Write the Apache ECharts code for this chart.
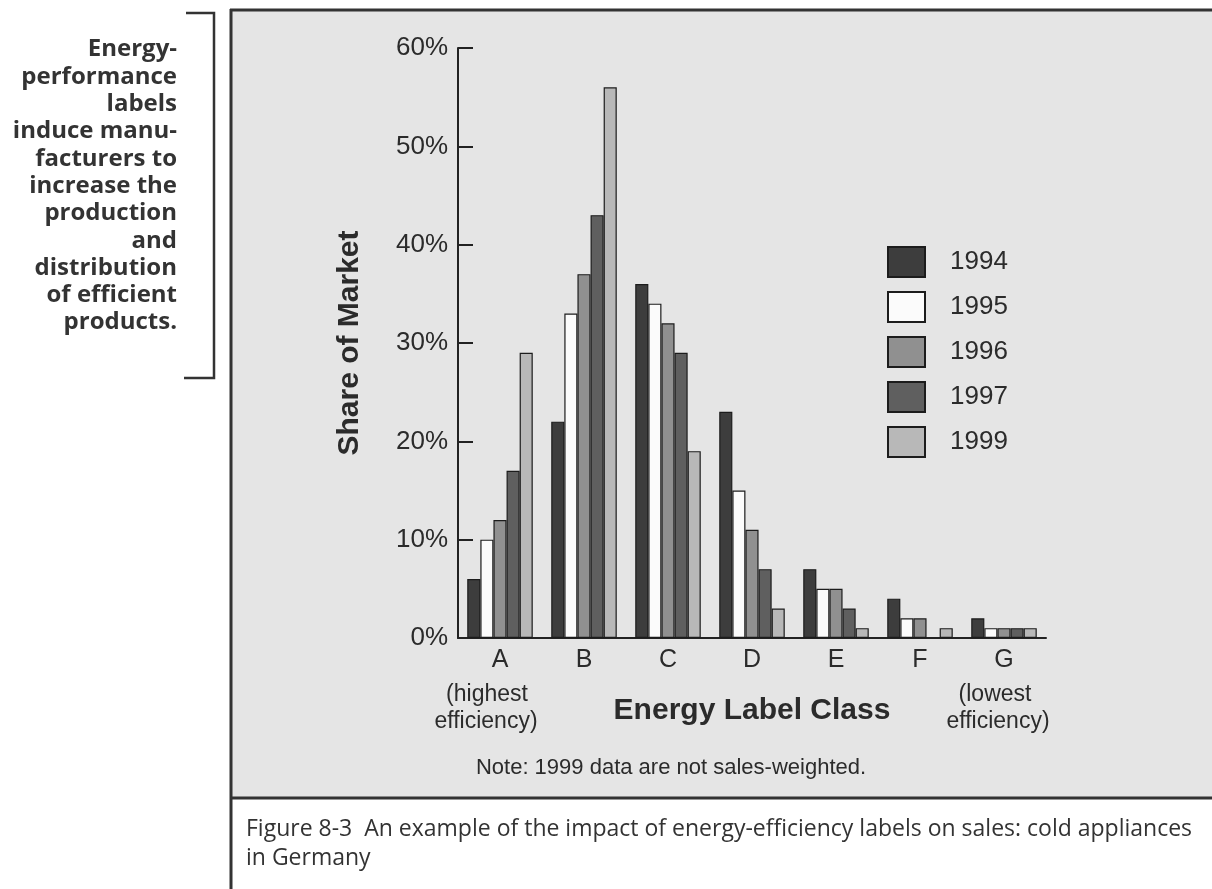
<!DOCTYPE html>
<html>
<head>
<meta charset="utf-8">
<script src="https://cdn.jsdelivr.net/npm/echarts@6/dist/echarts.min.js"></script>
<style>
html,body{margin:0;padding:0;background:#fff;}
#chart{width:1212px;height:889px;}
</style>
</head>
<body>
<div id="chart"></div>
<script>
const categories = ['A', 'B', 'C', 'D', 'E', 'F', 'G'];
const years = ['1994', '1995', '1996', '1997', '1999'];
const share1994 = [6, 22, 36, 23, 7, 4, 2];
const share1995 = [10, 33, 34, 15, 5, 2, 1];
const share1996 = [12, 37, 32, 11, 5, 2, 1];
const share1997 = [17, 43, 29, 7, 3, null, 1];
const share1999 = [29, 56, 19, 3, 1, 1, 1];
const yTicks = [0, 10, 20, 30, 40, 50, 60];
const seriesValues = [share1994, share1995, share1996, share1997, share1999];
const colors = ['#3d3d3d', '#fbfbfb', '#909090', '#5f5f5f', '#b8b8b8'];
const sideText = ['Energy-', 'performance', 'labels', 'induce manu-', 'facturers to', 'increase the', 'production', 'and', 'distribution', 'of efficient', 'products.'];

const chart = echarts.init(document.getElementById('chart'), null, {renderer: 'canvas'});
const txt = '#2b2b2b';
const sans = 'Liberation Sans, Arial, Helvetica, sans-serif';
const narrow = 'Liberation Sans Narrow, Liberation Sans, Arial, sans-serif';
const human = 'Open Sans, Noto Sans, sans-serif';

const option = {
  backgroundColor: '#ffffff',
  animation: false,
  grid: {left: 458, top: 48, width: 588, height: 590},
  legend: {
    orient: 'vertical', left: 887, top: 246, padding: 0,
    itemWidth: 37, itemHeight: 30, itemGap: 13,
    icon: 'rect', selectedMode: false,
    data: years,
    textStyle: {fontSize: 26, color: txt, fontFamily: sans, padding: [0, 0, 0, 20]}
  },
  xAxis: {
    type: 'category', data: categories,
    name: 'Energy Label Class', nameLocation: 'middle', nameGap: 58,
    nameTextStyle: {fontSize: 30, fontWeight: 'bold', color: txt, fontFamily: sans},
    axisLine: {lineStyle: {color: '#222', width: 2}},
    axisTick: {inside: true, length: 12, lineStyle: {color: '#222', width: 2}},
    axisLabel: {fontSize: 25, color: txt, fontFamily: sans, margin: 10}
  },
  yAxis: {
    type: 'value', min: 0, max: 60, interval: 10,
    name: 'Share of Market', nameLocation: 'middle', nameRotate: 90, nameGap: 93,
    nameTextStyle: {fontSize: 30, fontWeight: 'bold', color: txt, fontFamily: sans},
    axisLine: {show: true, lineStyle: {color: '#222', width: 2}},
    axisTick: {show: true, inside: true, length: 15, lineStyle: {color: '#222', width: 2}},
    splitLine: {show: false},
    axisLabel: {fontSize: 26, color: txt, fontFamily: sans, margin: 10,
      formatter: v => (yTicks.indexOf(v) >= 0 ? v + '%' : '')}
  },
  series: years.map((y, i) => ({
    name: y, type: 'bar', data: seriesValues[i],
    barGap: '0%', barCategoryGap: '22%',
    itemStyle: {color: colors[i], borderColor: '#1c1c1c', borderWidth: 1.2}
  })),
  graphic: [
    {type: 'rect', z: -100, silent: true, shape: {x: 231, y: 10, width: 990, height: 788},
      style: {fill: '#e5e5e5'}},
    {type: 'line', z: 50, silent: true, shape: {x1: 230, y1: 10, x2: 1212, y2: 10}, style: {stroke: '#333', lineWidth: 3}},
    {type: 'line', z: 50, silent: true, shape: {x1: 231, y1: 9, x2: 231, y2: 889}, style: {stroke: '#333', lineWidth: 3}},
    {type: 'line', z: 50, silent: true, shape: {x1: 230, y1: 798, x2: 1212, y2: 798}, style: {stroke: '#333', lineWidth: 3}},
    {type: 'polyline', z: 50, silent: true, shape: {points: [[186, 13], [214, 13], [214, 378], [184, 378]]},
      style: {stroke: '#333', lineWidth: 2.5, fill: null}},
    {type: 'text', z: 50, silent: true, x: 177, y: 36,
      style: {text: sideText.join('\n'), fill: '#333', font: 'bold 24px ' + human, textAlign: 'right', lineHeight: 27.3}},
    {type: 'text', z: 50, silent: true, x: 487, y: 695,
      style: {text: '(highest', fill: txt, font: '23px ' + narrow, textAlign: 'center', textVerticalAlign: 'middle'}},
    {type: 'text', z: 50, silent: true, x: 486, y: 722,
      style: {text: 'efficiency)', fill: txt, font: '23px ' + narrow, textAlign: 'center', textVerticalAlign: 'middle'}},
    {type: 'text', z: 50, silent: true, x: 995, y: 695,
      style: {text: '(lowest', fill: txt, font: '23px ' + narrow, textAlign: 'center', textVerticalAlign: 'middle'}},
    {type: 'text', z: 50, silent: true, x: 998, y: 722,
      style: {text: 'efficiency)', fill: txt, font: '23px ' + narrow, textAlign: 'center', textVerticalAlign: 'middle'}},
    {type: 'text', z: 50, silent: true, x: 671, y: 768,
      style: {text: 'Note: 1999 data are not sales-weighted.', fill: txt, font: '22px ' + narrow, textAlign: 'center', textVerticalAlign: 'middle'}},
    {type: 'text', z: 50, silent: true, x: 246, y: 829,
      style: {text: 'Figure 8-3  An example of the impact of energy-efficiency labels on sales: cold appliances', fill: '#333', font: '23px ' + human, textAlign: 'left', textVerticalAlign: 'middle'}},
    {type: 'text', z: 50, silent: true, x: 246, y: 858,
      style: {text: 'in Germany', fill: '#333', font: '23px ' + human, textAlign: 'left', textVerticalAlign: 'middle'}}
  ]
};
chart.setOption(option);
</script>
</body>
</html>
